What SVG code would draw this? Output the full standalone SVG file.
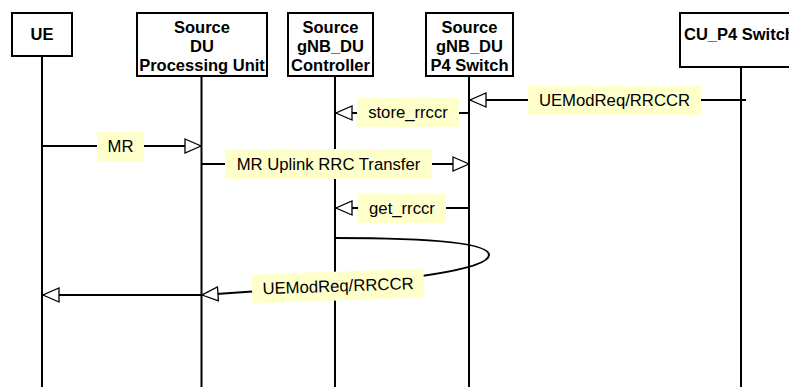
<svg xmlns="http://www.w3.org/2000/svg" width="789" height="387" viewBox="0 0 789 387">
<style>
.box{fill:#fff;stroke:#000;stroke-width:2}
.life{stroke:#000;stroke-width:2}
.hdr{font-family:"Liberation Sans",Arial,sans-serif;font-weight:bold;font-size:16.5px;text-anchor:middle;fill:#000}
.msg{fill:none;stroke:#000;stroke-width:2}
.lbg{fill:#ffffcc;stroke:none}
.lbl{font-family:"Liberation Sans",Arial,sans-serif;font-size:16.7px;text-anchor:middle;fill:#000}
</style>
<defs>
<marker id="open" markerUnits="userSpaceOnUse" markerWidth="18" markerHeight="16" refX="16" refY="7" orient="auto" viewBox="-1 -1 18 16">
<path d="M0,0 L16,7 L0,14 Z" fill="#fff" stroke="#000" stroke-width="1.3"/>
</marker>
</defs>
<rect width="789" height="387" fill="#fff"/>
<g id="ue">
<line class="life" x1="42" y1="56" x2="42" y2="387"/>
<rect class="box" x="12" y="13" width="60" height="43"/>
<text class="hdr" x="42" y="40">UE</text>
</g>
<g id="du-pu">
<line class="life" x1="201.5" y1="76" x2="201.5" y2="387"/>
<rect class="box" x="137" y="13" width="130" height="63"/>
<text class="hdr" x="202" y="32.5">Source</text>
<text class="hdr" x="202" y="51.5">DU</text>
<text class="hdr" x="202" y="70.5">Processing Unit</text>
</g>
<g id="ctrl">
<line class="life" x1="335" y1="76" x2="335" y2="387"/>
<rect class="box" x="288" y="13" width="85" height="63"/>
<text class="hdr" x="330.5" y="32.5">Source</text>
<text class="hdr" x="330.5" y="51.5">gNB_DU</text>
<text class="hdr" x="330.5" y="70.5">Controller</text>
</g>
<g id="p4">
<line class="life" x1="469" y1="76" x2="469" y2="387"/>
<rect class="box" x="426" y="13" width="87" height="63"/>
<text class="hdr" x="469.5" y="32.5">Source</text>
<text class="hdr" x="469.5" y="51.5">gNB_DU</text>
<text class="hdr" x="469.5" y="70.5">P4 Switch</text>
</g>
<g id="cu-p4">
<line class="life" x1="741" y1="67" x2="741" y2="387"/>
<rect class="box" x="680" y="13" width="124" height="54"/>
<text class="hdr" x="684" y="40" style="text-anchor:start">CU_P4 Switch</text>
</g>
<g id="connectors">
<line class="msg" x1="746" y1="100" x2="470" y2="100" marker-end="url(#open)"/>
<line class="msg" x1="469" y1="113" x2="336" y2="113" marker-end="url(#open)"/>
<line class="msg" x1="42" y1="146" x2="201" y2="146" marker-end="url(#open)"/>
<line class="msg" x1="201.5" y1="164" x2="469" y2="164" marker-end="url(#open)"/>
<line class="msg" x1="469" y1="208" x2="336" y2="208" marker-end="url(#open)"/>
<path class="msg" d="M335,238 C440,238 489,244 489,255 C489,270 400,282 260,291 L202,295" marker-end="url(#open)"/>
<line class="msg" x1="201.5" y1="295" x2="43" y2="295" marker-end="url(#open)"/>
</g>
<g id="labels">
<rect class="lbg" x="528" y="86" width="173" height="29"/>
<text class="lbl" x="614.5" y="106">UEModReq/RRCCR</text>
<rect class="lbg" x="357" y="98" width="102" height="29"/>
<text class="lbl" x="408" y="118">store_rrccr</text>
<rect class="lbg" x="97" y="132" width="47" height="29"/>
<text class="lbl" x="120.5" y="152">MR</text>
<rect class="lbg" x="225" y="149" width="207" height="30"/>
<text class="lbl" x="328.5" y="169.5">MR Uplink RRC Transfer</text>
<rect class="lbg" x="358" y="194" width="88" height="29"/>
<text class="lbl" x="402" y="214">get_rrccr</text>
<g transform="translate(338,286) rotate(-2)">
<rect class="lbg" x="-86" y="-14.5" width="172" height="29"/>
<text class="lbl" x="0" y="5.6">UEModReq/RRCCR</text>
</g>
</g>
</svg>
